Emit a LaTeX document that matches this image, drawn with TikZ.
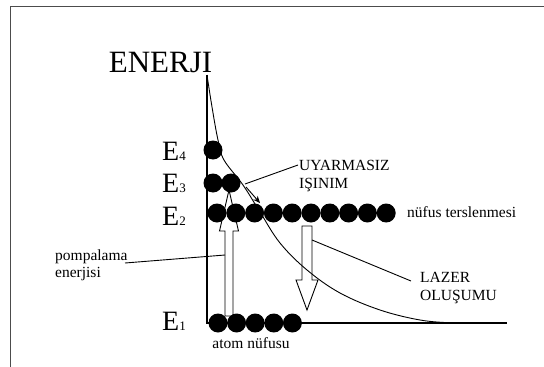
\documentclass[tikz,border=0pt]{standalone}
\usepackage{fontspec}
\setmainfont{Liberation Serif}
\usetikzlibrary{arrows.meta}
\begin{document}
\begin{tikzpicture}[x=1pt,y=-1pt,
  atom/.style={circle,fill=black,minimum size=19pt,inner sep=0pt},
  lbl/.style={font=\fontsize{15.5}{16}\selectfont,inner sep=0pt,anchor=base west},
  elbl/.style={inner sep=0pt,anchor=base west},
  leader/.style={line width=0.9pt},
  axisline/.style={line width=1.2pt},
  hollow/.style={draw=black,line width=0.9pt,fill=white,line join=miter}]
\useasboundingbox (0,0) rectangle (544,367);
% frame
\draw[line width=1.5pt,gray!60!black] (10.5,367) -- (10.5,6.5) -- (544,6.5);
% title
\node[inner sep=0pt,anchor=base,font=\fontsize{31}{31}\selectfont] (title) at (160.5,72) {ENERJI};
% axes
\coordinate (top) at (207,75);
\coordinate (origin) at (207,323);
\coordinate (xend) at (507,323);
\draw[axisline] (top) -- (origin) -- (xend);
% pumping arrow (behind atoms)
\draw[hollow] (225,316) -- (225,231) -- (219.5,231) -- (229,190) -- (238.5,231) -- (233,231) -- (233,316) -- cycle;
% curve
\draw[line width=0.9pt] plot[smooth,tension=0.6] coordinates {(207,75) (212,107) (218,140) (224,160) (243,185) (260,212) (280,243) (307,270) (340,293) (380,310) (420,320) (453,323) (470,323.5)};
% laser arrow
\draw[line width=0.9pt,line join=miter] (302,226) -- (312,226) -- (312,280) -- (318,280) -- (307,310) -- (296,280) -- (302,280) -- cycle;
% atoms
\node[atom] (a4) at (213,150) {};
\node[atom] (a31) at (213,183) {};
\node[atom] (a32) at (231,183) {};
\foreach \i in {0,...,9} {\node[atom] (b\i) at ({217+18.8*\i},213) {};}
\foreach \i in {0,...,4} {\node[atom] (c\i) at ({218+18.6*\i},323) {};}
% level labels
\node[elbl] (E4) at (162,160) {\fontsize{28}{28}\selectfont E\fontsize{13}{13}\selectfont 4};
\node[elbl] (E3) at (162,192) {\fontsize{28}{28}\selectfont E\fontsize{13}{13}\selectfont 3};
\node[elbl] (E2) at (162,225) {\fontsize{28}{28}\selectfont E\fontsize{13}{13}\selectfont 2};
\node[elbl] (E1) at (162,330) {\fontsize{28}{28}\selectfont E\fontsize{13}{13}\selectfont 1};
% text labels
\node[lbl] (uy1) at (299,170) {UYARMASIZ};
\node[lbl] (uy2) at (299,188.5) {IŞINIM};
\node[lbl] (nt) at (407,217) {nüfus terslenmesi};
\node[lbl] (pp1) at (55,260) {pompalama};
\node[lbl] (pp2) at (55,277.5) {enerjisi};
\node[lbl] (lz1) at (420,282) {LAZER};
\node[lbl] (lz2) at (420,300) {OLUŞUMU};
\node[lbl,anchor=base] (an) at (251,348) {atom nüfusu};
% leaders
\coordinate (uyA) at (298,165);
\coordinate (uyB) at (245,184);
\draw[leader] (uyA) -- (uyB);
\coordinate (nrA) at (246,187);
\coordinate (nrB) at (260,203);
\draw[leader,-{Stealth[length=7pt,width=6pt]}] (nrA) -- (nrB);
\coordinate (ppA) at (125,263);
\coordinate (ppB) at (225,255);
\draw[leader] (ppA) -- (ppB);
\coordinate (lzA) at (312,240);
\coordinate (lzB) at (411,281);
\draw[leader] (lzA) -- (lzB);
\end{tikzpicture}
\end{document}
